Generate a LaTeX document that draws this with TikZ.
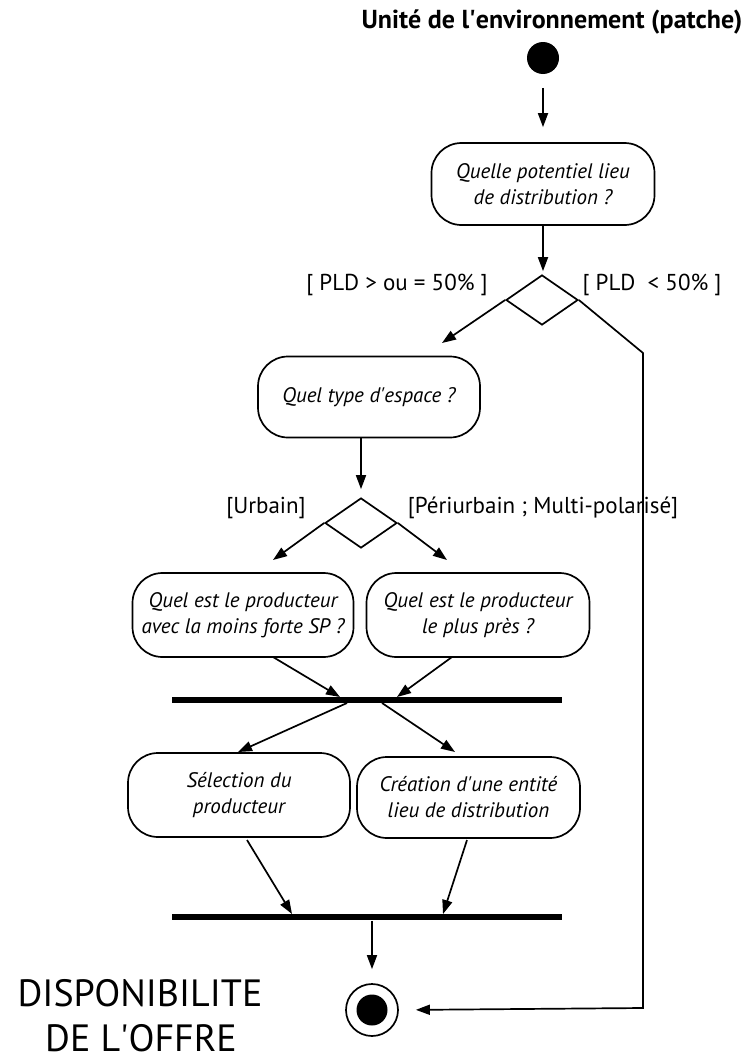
\documentclass[tikz,border=0pt]{standalone}
\usepackage{fontspec}
\setmainfont{PT Sans}
\usetikzlibrary{shapes.geometric,arrows.meta}
\newcommand{\apos}{\textquotesingle}
\begin{document}
\begin{tikzpicture}[x=1pt,y=-1pt,
 line width=1.7pt,
 act/.style={draw, rounded corners=30pt, align=center, inner sep=0pt,
   font=\fontsize{21}{26}\selectfont\itshape},
 dec/.style={draw, diamond, minimum width=72pt, minimum height=50pt, inner sep=0pt},
 syncbar/.style={fill=black, minimum width=390pt, minimum height=6pt, inner sep=0pt},
 guard/.style={font=\fontsize{23}{26}\selectfont, inner sep=0pt},
 flow/.style={-{Triangle[length=14pt,width=10pt]}},
]
\useasboundingbox (0,0) rectangle (742,1060);

% title and start
\node[font=\fontsize{26}{30}\selectfont\bfseries, anchor=base, inner sep=0pt] (title) at (552,28) {Unité de l\apos environnement (patche)};
\node[circle, fill=black, minimum size=32pt, inner sep=0pt] (start) at (543,58) {};

% activities
\node[act, minimum width=223pt, minimum height=82pt] (b1) at (543,184) {Quelle potentiel lieu\\de distribution ?};
\node[act, minimum width=222pt, minimum height=81pt] (b2) at (369,397) {Quel type d\apos espace ?};
\node[act, minimum width=221pt, minimum height=84pt] (b3l) at (243,615) {Quel est le producteur\\avec la moins forte SP ?};
\node[act, minimum width=223pt, minimum height=84pt] (b3r) at (478,615) {Quel est le producteur\\le plus près ?};
\node[act, minimum width=222pt, minimum height=84pt] (b4l) at (239,795) {Sélection du\\producteur};
\node[act, minimum width=223pt, minimum height=81pt] (b4r) at (468.5,797.5) {Création d\apos une entité\\lieu de distribution};

% decisions
\node[dec] (d1) at (542,300) {};
\node[dec] (d2) at (361,523) {};

% guards
\node[guard] (g1) at (397,285) {[ PLD > ou = 50\% ]};
\node[guard] (g2) at (652,285) {[ PLD\ \ < 50\% ]};
\node[guard] (g3) at (266,508) {[Urbain]};
\node[guard] (g4) at (543,508) {[Périurbain ; Multi-polarisé]};

% sync bars
\node[syncbar] (bar1) at (367,700) {};
\node[syncbar] (bar2) at (367,917) {};

% final node
\node[circle, draw, minimum size=52pt, inner sep=0pt] (endc) at (372,1010) {};
\node[circle, fill=black, minimum size=31pt, inner sep=0pt] (endin) at (endc) {};

\node[font=\fontsize{38}{44}\selectfont, anchor=base, inner sep=0pt] (lab1) at (140,1006) {DISPONIBILITE};
\node[font=\fontsize{38}{44}\selectfont, anchor=base, inner sep=0pt] (lab2) at (141,1051) {DE L\apos OFFRE};

% free-end coordinates
\coordinate (t1) at (442,343);
\coordinate (ca) at (643,353);
\coordinate (cb) at (643,1008);
\coordinate (t2l) at (273,560);
\coordinate (t2r) at (447,560);
\coordinate (s3l) at (273,657);
\coordinate (s3r) at (452,657);
\coordinate (e3l) at (340,697);
\coordinate (e3r) at (397,697);
\coordinate (s4l) at (347,703);
\coordinate (s4r) at (382,703);
\coordinate (e4l) at (238,752);
\coordinate (e4r) at (455,752);
\coordinate (s5l) at (247,840);
\coordinate (s5r) at (467,840);
\coordinate (e5l) at (292,914);
\coordinate (e5r) at (443,914);

% connectors
\draw[flow, shorten <=13pt, shorten >=15pt] (start) -- (b1);
\draw[flow, shorten >=3pt] (b1) -- (b1 |- d1.north);
\draw[flow] (d1.west) -- (t1);
\draw[flow, shorten >=17pt] (d1.east) -- (ca) -- (cb) -- (endc.east);
\draw[flow, shorten >=8pt] (d2.north |- b2.south) -- (d2.north);
\draw[flow] (d2.west) -- (t2l);
\draw[flow] (d2.east) -- (t2r);
\draw[flow] (s3l) -- (e3l);
\draw[flow] (s3r) -- (e3r);
\draw[flow] (s4l) -- (e4l);
\draw[flow] (s4r) -- (e4r);
\draw[flow] (s5l) -- (e5l);
\draw[flow] (s5r) -- (e5r);
\draw[flow, shorten >=14pt] (endc.north |- bar2.south) -- (endc.north);
\end{tikzpicture}
\end{document}
